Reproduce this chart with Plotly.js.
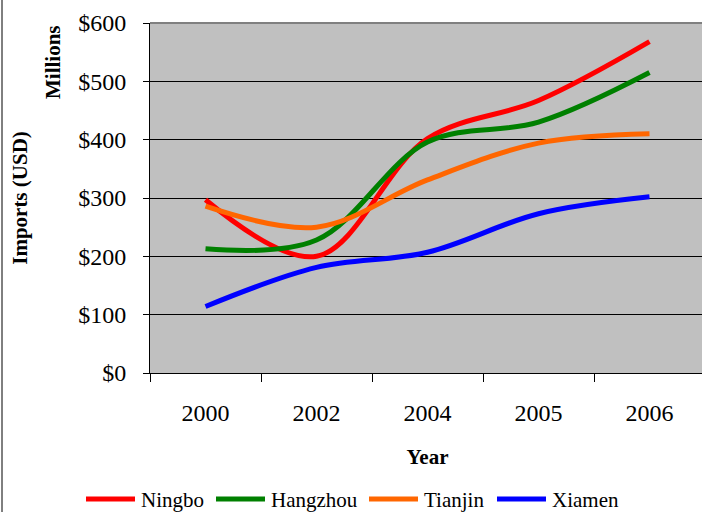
<!DOCTYPE html>
<html>
<head>
<meta charset="utf-8">
<script src="https://cdn.plot.ly/plotly-3.0.1.min.js"></script>
<style>html,body{margin:0;padding:0;overflow:hidden;background:#fff;}</style>
</head>
<body>
<div id="chart"></div>
<script>
var years = ['2000', '2002', '2004', '2005', '2006'];
var seriesNames = ['Ningbo', 'Hangzhou', 'Tianjin', 'Xiamen'];
var ningbo   = [297, 200, 402, 467, 568];
var hangzhou = [213, 228, 396, 430, 515];
var tianjin  = [286, 250, 331, 394, 410];
var xiamen   = [114, 181, 207, 273, 302];
var seriesValues = [ningbo, hangzhou, tianjin, xiamen];
var seriesColors = ['#FF0000', '#008000', '#FF6600', '#0000FF'];

var FONT = 'Liberation Serif';
var W = 705, H = 512, ML = 150, MR = 0, MT = 23, MB = 139;
var pw = W - ML - MR, ph = H - MT - MB;
function px2x(p){ return (p - ML) / pw; }
function py2y(p){ return (H - MB - p) / ph; }

var traces = seriesNames.map(function(n, i){
  return {
    type: 'scatter', mode: 'lines', name: n,
    x: years, y: seriesValues[i],
    line: {color: seriesColors[i], width: 5, shape: 'spline', smoothing: 1},
    showlegend: false, hoverinfo: 'skip'
  };
});

var shapes = [
  {type: 'line', xref: 'paper', yref: 'paper', x0: 0, x1: 1, y0: 1, y1: 1, line: {color: '#808080', width: 2}},
  {type: 'line', xref: 'paper', yref: 'paper', x0: px2x(2), x1: px2x(2), y0: py2y(0), y1: py2y(512), line: {color: '#000', width: 1}}
];
var annotations = [
  {text: '<b>Millions</b>', xref: 'paper', yref: 'paper', x: px2x(53), y: py2y(62), showarrow: false, textangle: -90, font: {family: FONT, size: 21, color: '#000'}, xanchor: 'center', yanchor: 'middle'}
];
var legStarts = [86, 216, 369, 497];
var legY = 499;
seriesNames.forEach(function(n, i){
  shapes.push({type: 'line', xref: 'paper', yref: 'paper', x0: px2x(legStarts[i]), x1: px2x(legStarts[i] + 49), y0: py2y(legY), y1: py2y(legY), line: {color: seriesColors[i], width: 5}});
  annotations.push({text: n, xref: 'paper', yref: 'paper', x: px2x(legStarts[i] + 53), y: py2y(legY + 1), showarrow: false, xanchor: 'left', yanchor: 'middle', font: {family: FONT, size: 21, color: '#000'}});
});

var layout = {
  width: W, height: H,
  margin: {l: ML, r: MR, t: MT, b: MB, pad: 0},
  paper_bgcolor: '#fff', plot_bgcolor: '#C0C0C0',
  font: {family: FONT, color: '#000'},
  showlegend: false,
  xaxis: {
    type: 'category', range: [-0.5, 4.5],
    showline: true, linecolor: '#000', linewidth: 1,
    ticks: 'outside', ticklen: 8, tickcolor: '#000', tickson: 'boundaries',
    showgrid: false, zeroline: false,
    tickfont: {family: FONT, size: 24, color: '#000'},
    ticklabelstandoff: 18,
    title: {text: '<b>Year</b>', font: {family: FONT, size: 21, color: '#000'}, standoff: 24}
  },
  yaxis: {
    range: [0, 600], dtick: 100, tickprefix: '$',
    showline: true, linecolor: '#000', linewidth: 1,
    ticks: 'outside', ticklen: 6, tickcolor: '#000',
    showgrid: true, gridcolor: '#000', gridwidth: 1, zeroline: false,
    tickfont: {family: FONT, size: 24, color: '#000'},
    ticklabelstandoff: 12,
    title: {text: '<b>Imports (USD)</b>', font: {family: FONT, size: 21, color: '#000'}, standoff: 44}
  },
  shapes: shapes,
  annotations: annotations
};

Plotly.newPlot('chart', traces, layout, {staticPlot: true, displayModeBar: false});
</script>
</body>
</html>
